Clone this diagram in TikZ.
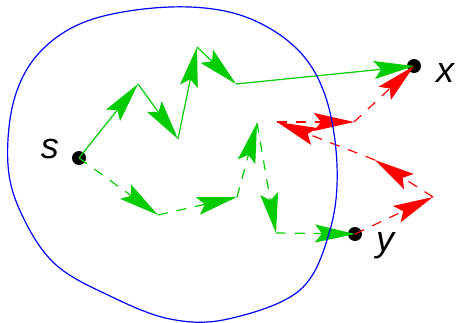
\documentclass[tikz,border=0pt]{standalone}
\usepackage{fontspec}
\setmainfont{Liberation Sans}
\usetikzlibrary{arrows.meta}
\definecolor{gr}{RGB}{0,204,0}
\definecolor{rd}{RGB}{255,0,0}
\definecolor{bl}{RGB}{0,0,255}
\tikzset{
  dot/.style={circle,fill=black,inner sep=0pt,minimum size=14pt},
  lab/.style={inner sep=0pt,font=\fontsize{36}{40}\selectfont\itshape},
  hop/.style={line width=1.2pt,-{Stealth[length=40pt,width=18pt,inset=7pt]}},
  ghop/.style={hop,color=gr},
  gdash/.style={ghop,dash pattern=on 10pt off 9pt},
  rdash/.style={hop,color=rd,dash pattern=on 10pt off 9pt},
  region/.style={draw=bl,line width=1.2pt}
}
\begin{document}
\begin{tikzpicture}[x=1pt,y=-1pt]
\useasboundingbox (0,0) rectangle (456,322);
% points
\node[dot] (s) at (79,158) {};
\node[dot] (x) at (414,66) {};
\node[dot] (y) at (355,234) {};
\node[lab] (ls) at (50,149) {s};
\node[lab] (lx) at (445,73) {x};
\node[lab] (ly) at (385,246) {y};
% solid green walk
\coordinate (g1) at (138,84);
\coordinate (g2) at (178,139);
\coordinate (g3) at (197,47);
\coordinate (g4) at (236,84);
\draw[ghop] (s.center) -- (g1);
\draw[ghop] (g1) -- (g2);
\draw[ghop] (g2) -- (g3);
\draw[ghop] (g3) -- (g4);
\draw[ghop] (g4) -- (x.center);
% dashed green walk
\coordinate (d1) at (158,215);
\coordinate (d2) at (237,197);
\coordinate (d3) at (257,123);
\coordinate (d4) at (276,233);
\draw[gdash] (s.center) -- (d1);
\draw[gdash] (d1) -- (d2);
\draw[gdash] (d2) -- (d3);
\draw[gdash] (d3) -- (d4);
\draw[gdash] (d4) -- (y.center);
% dashed red walk
\coordinate (r1) at (433,197);
\coordinate (r2) at (375,160);
\coordinate (r3) at (277,122);
\coordinate (r4) at (354,122);
\draw[rdash] (y.center) -- (r1);
\draw[rdash] (r1) -- (r2);
\draw[rdash] (r2) -- (r3);
\draw[rdash] (r3) -- (r4);
\draw[rdash] (r4) -- (x.center);
% region
\draw[region] plot[smooth cycle, tension=0.6] coordinates {
 (8,165) (14,100) (40,52) (90,20) (170,7) (240,15) (295,47) (325,95)
 (337,165) (330,230) (300,290) (228,319) (170,319) (110,296) (55,264) (22,215)};
\end{tikzpicture}
\end{document}
